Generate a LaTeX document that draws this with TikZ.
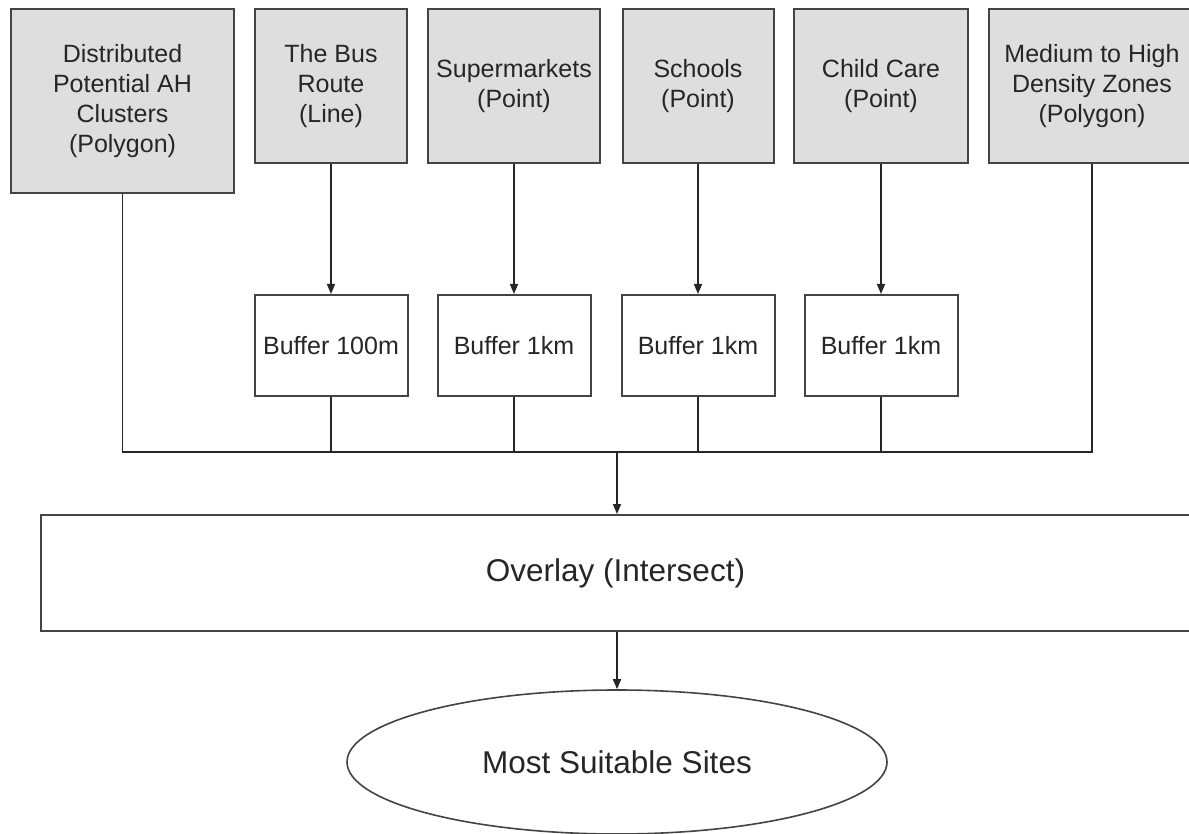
\documentclass[tikz,border=0pt]{standalone}
\usepackage{fontspec}
\setmainfont{Liberation Sans}
\usetikzlibrary{arrows.meta,shapes.geometric}
\definecolor{inkgray}{HTML}{262626}
\definecolor{edgegray}{HTML}{444444}
\definecolor{boxfill}{HTML}{DEDEDE}
\tikzset{
  layerbox/.style={draw=edgegray, line width=2pt, fill=boxfill, align=center,
    text=inkgray, inner sep=0pt, font=\fontsize{25}{30}\selectfont,
    minimum height=154pt},
  bufferbox/.style={draw=edgegray, line width=2pt, fill=white, align=center,
    text=inkgray, inner sep=0pt, font=\fontsize{25}{30}\selectfont,
    minimum width=153pt, minimum height=101pt},
  opbox/.style={draw=edgegray, line width=2pt, fill=white, text=inkgray,
    inner sep=0pt, font=\fontsize{31.5}{36}\selectfont},
  resultnode/.style={draw=edgegray, line width=1.6pt, ellipse, fill=white,
    text=inkgray, inner sep=0pt, font=\fontsize{31.5}{36}\selectfont,
    minimum width=540pt, minimum height=144pt},
  conn/.style={draw=inkgray, line width=1.6pt},
  flow/.style={conn, -{Triangle[length=10pt,width=8pt]}},
}
\begin{document}
\begin{tikzpicture}[x=1pt, y=-1pt]
\useasboundingbox (0,0) rectangle (1189,834);
\clip (0,0) rectangle (1189,834);
\fill[white] (0,0) rectangle (1189,834);

% input layers
\node[layerbox, minimum width=223pt, minimum height=184pt] (d1) at (122.5,101)
  {Distributed\\Potential AH\\Clusters\\(Polygon)};
\node[layerbox, minimum width=152pt] (d2) at (331,86) {The Bus\\Route\\(Line)};
\node[layerbox, minimum width=172pt] (d3) at (514,86) {Supermarkets\\(Point)};
\node[layerbox, minimum width=151pt] (d4) at (698,86) {Schools\\(Point)};
\node[layerbox, minimum width=174pt] (d5) at (881,86) {Child Care\\(Point)};
\node[layerbox, minimum width=207pt] (d6) at (1092,86)
  {Medium to High\\Density Zones\\(Polygon)};

% buffer operations
\node[bufferbox] (f1) at (331,345.5) {Buffer 100m};
\node[bufferbox] (f2) at (514,345.5) {Buffer 1km};
\node[bufferbox] (f3) at (698,345.5) {Buffer 1km};
\node[bufferbox] (f4) at (881,345.5) {Buffer 1km};

% overlay and result
\node[opbox, minimum width=1149pt, minimum height=116pt] (ov) at (615.5,573)
  {Overlay (Intersect)};
\node[resultnode] (res) at (617,762) {Most Suitable Sites};

% layer to buffer
\draw[flow] (d2) -- (f1);
\draw[flow] (d3) -- (f2);
\draw[flow] (d4) -- (f3);
\draw[flow] (d5) -- (f4);

% collector line
\coordinate (j) at (617,452);
\draw[conn] (d1.south) |- (j);
\draw[conn] (d6.south) |- (j);
\draw[conn] (f1.south) |- (j);
\draw[conn] (f2.south) |- (j);
\draw[conn] (f3.south) |- (j);
\draw[conn] (f4.south) |- (j);
\draw[conn, line width=2.6pt] (f1.south |- j) -- (f4.south |- j);

% to overlay and result
\draw[flow] (j) -- (j |- ov.north);
\draw[flow] (ov.south -| j) -- (res.north);
\end{tikzpicture}
\end{document}
